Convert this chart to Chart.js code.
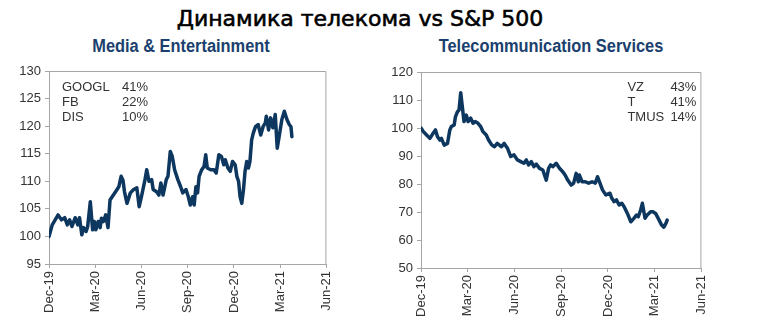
<!DOCTYPE html>
<html>
<head>
<meta charset="utf-8">
<script src="https://cdn.jsdelivr.net/npm/chart.js@4.4.1/dist/chart.umd.min.js"></script>
<style>
  body { margin: 0; background: #fff; width: 779px; height: 331px; position: relative; overflow: hidden; }
  .main-title { position: absolute; left: 160px; width: 400px; top: 6px; text-align: center;
    font: 22px 'DejaVu Sans', sans-serif; color: #000; white-space: nowrap; -webkit-text-stroke: 0.6px #000; }
  .sub { position: absolute; width: 300px; top: 36px; text-align: center; white-space: nowrap;
    font: bold 18px 'Liberation Sans', Arial, sans-serif; color: #1b3f6e; transform: scaleX(0.91); }
  canvas { position: absolute; top: 0; }
</style>
</head>
<body>
<div class="main-title">Динамика телекома vs S&amp;P 500</div>
<div class="sub" style="left:31px">Media &amp; Entertainment</div>
<div class="sub" style="left:401px">Telecommunication Services</div>
<canvas id="media" width="345" height="331" style="left:0"></canvas>
<canvas id="telecom" width="340" height="331" style="left:380px"></canvas>
<script>
// x positions are months since the Dec-19 tick
const xTickLabels = ['Dec-19', 'Mar-20', 'Jun-20', 'Sep-20', 'Dec-20', 'Mar-21', 'Jun-21'];

const mediaMonths = [0, 0.21, 0.59, 0.81, 1.02, 1.19, 1.34, 1.49, 1.70, 1.87, 1.98, 2.13, 2.25, 2.41, 2.51, 2.68,
  2.83, 2.94, 3.04, 3.19, 3.32, 3.40, 3.53, 3.68, 3.83, 3.96, 4.10, 4.32, 4.53, 4.68, 4.80, 4.90, 5.06, 5.28,
  5.49, 5.70, 5.85, 6.02, 6.23, 6.34, 6.49, 6.66, 6.76, 6.98, 7.13, 7.26, 7.40, 7.61, 7.72, 7.87, 8.00, 8.15,
  8.36, 8.53, 8.68, 8.89, 9.04, 9.17, 9.32, 9.42, 9.53, 9.64, 9.74, 9.91, 10.06, 10.17, 10.27, 10.49, 10.70,
  10.85, 11.02, 11.19, 11.34, 11.44, 11.61, 11.76, 11.91, 12.08, 12.19, 12.30, 12.40, 12.51, 12.62, 12.72,
  12.83, 12.94, 13.04, 13.15, 13.25, 13.40, 13.57, 13.74, 13.89, 14.04, 14.10, 14.25, 14.38, 14.53, 14.68,
  14.81, 14.95, 15.11, 15.27, 15.44, 15.59, 15.70, 15.76];
const mediaValues = [100, 102.1, 103.9, 103.0, 103.4, 102.1, 103.0, 101.8, 103.4, 102.1, 103.4, 100.3, 101.6, 100.9, 101.8, 106.3,
  101.2, 102.7, 101.2, 102.7, 101.6, 103.3, 102.7, 103.9, 101.6, 106.6, 107.2, 108.1, 109.0, 110.9, 110.2, 108.1, 106.0, 107.9,
  108.5, 108.8, 105.4, 107.5, 110.3, 112.1, 110.0, 110.3, 108.5, 108.1, 107.5, 109.7, 107.5, 110.3, 110.9, 115.4, 114.5, 112.1,
  110.3, 109.1, 107.9, 108.5, 107.2, 105.7, 107.2, 105.7, 109.0, 107.9, 110.9, 112.1, 112.7, 114.8, 112.4, 112.1, 112.1,
  111.5, 114.8, 114.5, 113.0, 113.9, 112.4, 111.8, 113.6, 113.0, 110.9, 110.0, 107.2, 106.0, 108.5, 111.8,
  113.6, 112.4, 113.6, 117.5, 118.7, 119.9, 120.3, 118.4, 119.9, 120.6, 121.8, 119.3, 121.5, 119.7, 122.1,
  116.0, 118.4, 121.2, 122.7, 121.2, 120.3, 119.9, 118.1];

const telecomMonths = [0, 0.15, 0.36, 0.57, 0.78, 0.93, 1.06, 1.21, 1.31, 1.49, 1.70, 1.85, 1.95, 2.13, 2.21, 2.34,
  2.44, 2.55, 2.64, 2.76, 2.91, 3.02, 3.19, 3.34, 3.48, 3.66, 3.83, 3.98, 4.19, 4.34, 4.55, 4.72, 4.89, 5.17,
  5.34, 5.55, 5.76, 5.97, 6.19, 6.40, 6.61, 6.76, 6.91, 7.08, 7.25, 7.40, 7.61, 7.82, 8.04, 8.19, 8.32, 8.46,
  8.68, 8.89, 9.10, 9.25, 9.42, 9.64, 9.80, 9.96, 10.10, 10.17, 10.34, 10.55, 10.76, 10.98, 11.19, 11.33,
  11.49, 11.65, 11.87, 12.13, 12.25, 12.40, 12.55, 12.72, 12.89, 13.04, 13.25, 13.47, 13.68, 13.83, 13.95,
  14.10, 14.21, 14.38, 14.52, 14.74, 14.89, 15.06, 15.22, 15.44, 15.59, 15.73, 15.80];
const telecomValues = [100, 98.7, 97.5, 96.3, 98.1, 99.3, 96.9, 95.7, 96.3, 93.9, 94.5, 99.3, 100.5, 101.1, 104.0, 105.8,
  106.4, 112.6, 108.2, 102.3, 104.6, 102.3, 103.5, 101.7, 102.3, 101.7, 100.5, 98.7, 97.5, 95.7, 93.9, 93.3, 94.5, 93.3,
  94.5, 92.8, 89.8, 90.4, 88.6, 88.0, 87.4, 88.6, 86.8, 88.0, 86.2, 87.1, 85.6, 85.0, 81.4, 85.6, 86.8, 86.2,
  87.4, 85.6, 84.4, 83.2, 81.4, 79.6, 80.3, 83.8, 80.8, 83.2, 80.8, 80.8, 80.3, 80.8, 80.3, 82.6,
  80.3, 77.9, 76.1, 76.7, 74.9, 73.7, 74.3, 72.5, 73.1, 71.9, 69.5, 66.5, 67.8, 68.9, 68.3,
  70.7, 73.1, 67.8, 68.9, 70.1, 70.1, 69.5, 67.8, 65.4, 64.6, 66.0, 67.1];

const mediaNames = ['GOOGL', 'FB', 'DIS'];
const mediaWeights = ['41%', '22%', '10%'];
const telecomNames = ['VZ', 'T', 'TMUS'];
const telecomWeights = ['43%', '41%', '14%'];

const lineColor = '#0e3760';
const axisColor = '#a6a6a6';
const textColor = '#333';
const font = { family: "'Liberation Sans', Arial, sans-serif", size: 13 };

const framePlugin = {
  id: 'frame',
  afterDraw(chart, args, opts) {
    const { ctx, chartArea: a } = chart;
    ctx.save();
    ctx.strokeStyle = axisColor;
    ctx.lineWidth = 1;
    ctx.beginPath();
    ctx.moveTo(a.left, a.top + 0.5);
    ctx.lineTo(a.right - 0.5, a.top + 0.5);
    ctx.lineTo(a.right - 0.5, a.bottom);
    ctx.stroke();
    // weights box
    ctx.fillStyle = textColor;
    ctx.font = '13px ' + font.family;
    ctx.textBaseline = 'middle';
    opts.names.forEach((n, i) => {
      const y = a.top + opts.dy + i * 15;
      ctx.textAlign = 'left';
      ctx.fillText(n, opts.nameX(a), y);
      ctx.textAlign = 'right';
      ctx.fillText(opts.weights[i], opts.valueX(a), y);
    });
    ctx.restore();
  }
};

function makeChart(id, months, values, yMin, yMax, yStep, yWidth, xHeight, padding, legend) {
  return new Chart(document.getElementById(id), {
    type: 'line',
    data: {
      datasets: [{
        data: months.map((m, i) => ({ x: m, y: values[i] })),
        borderColor: lineColor,
        borderWidth: 3.5,
        borderJoinStyle: 'round',
        borderCapStyle: 'round',
        pointRadius: 0,
        tension: 0,
        fill: false,
      }],
    },
    options: {
      responsive: false,
      animation: false,
      layout: { padding: padding },
      plugins: { legend: { display: false }, tooltip: { enabled: false }, frame: legend },
      scales: {
        x: {
          type: 'linear',
          min: 0,
          max: 18,
          afterFit: s => { s.height = xHeight; },
          afterBuildTicks: s => { s.ticks = xTickLabels.map((_, i) => ({ value: i * 3 })); },
          ticks: {
            callback: v => xTickLabels[v / 3],
            minRotation: 90, maxRotation: 90, autoSkip: false,
            color: textColor, font: font, padding: 3,
          },
          grid: { drawOnChartArea: false, drawTicks: true, tickLength: 4, color: axisColor },
          border: { color: axisColor },
        },
        y: {
          min: yMin,
          max: yMax,
          afterFit: s => { s.width = yWidth; },
          ticks: { stepSize: yStep, color: textColor, font: font, padding: 4 },
          grid: { drawOnChartArea: false, drawTicks: true, tickLength: 4, color: axisColor },
          border: { color: axisColor },
        },
      },
    },
    plugins: [framePlugin],
  });
}

makeChart('media', mediaMonths, mediaValues, 95, 130, 5, 49, 67,
  { top: 71, right: 13, bottom: 0, left: 0 },
  { names: mediaNames, weights: mediaWeights, dy: 16, nameX: a => a.left + 13, valueX: a => a.left + 99 });

makeChart('telecom', telecomMonths, telecomValues, 50, 120, 10, 41, 63,
  { top: 72, right: 17, bottom: 0, left: 0 },
  { names: telecomNames, weights: telecomWeights, dy: 15, nameX: a => a.right - 74, valueX: a => a.right - 5 });
</script>
</body>
</html>
